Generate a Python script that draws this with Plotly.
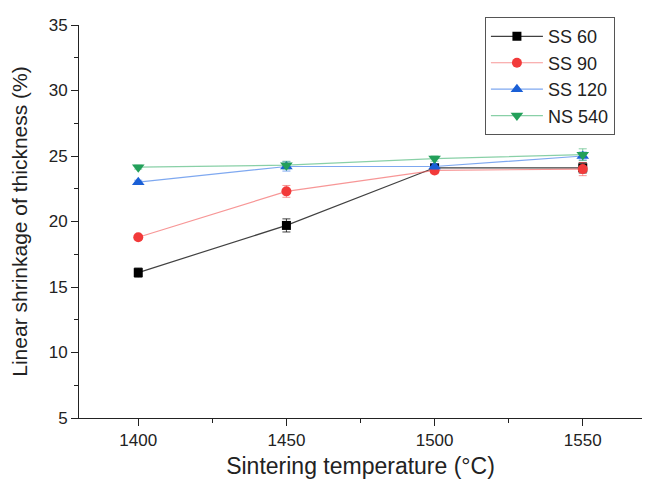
import plotly.graph_objects as go

temps = [1400, 1450, 1500, 1550]
ss60 = [16.1, 19.7, 24.1, 24.1]
ss60_err = [0.35, 0.5, 0.2, 0.4]
ss90 = [18.8, 22.3, 23.9, 24.0]
ss90_err = [0.15, 0.45, 0.25, 0.5]
ss120 = [23.0, 24.2, 24.2, 25.0]
ss120_err = [0.15, 0.35, 0.2, 0.3]
ns540 = [24.15, 24.3, 24.8, 25.1]
ns540_err = [0.15, 0.3, 0.2, 0.45]

series = [
    ("SS 60", ss60, ss60_err, "#000000", "rgba(0,0,0,0.75)", "square", 9),
    ("SS 90", ss90, ss90_err, "#f23a3a", "rgba(242,80,80,0.6)", "circle", 10),
    ("SS 120", ss120, ss120_err, "#1a5fd6", "rgba(40,110,230,0.6)", "triangle-up", 11),
    ("NS 540", ns540, ns540_err, "#23a05a", "rgba(40,170,95,0.55)", "triangle-down", 11),
]

fig = go.Figure()
for name, y, err, mc, lc, sym, sz in series:
    fig.add_trace(go.Scatter(
        x=temps, y=y, name=name, mode="lines+markers",
        line=dict(color=lc, width=1.2),
        marker=dict(color=mc, symbol=sym, size=sz),
        error_y=dict(type="data", array=err, visible=True, color=lc, thickness=1, width=4),
    ))

# page body has an 8px margin, so the figure is sized/offset to compensate
fig.update_layout(
    width=643, height=485,
    margin=dict(l=71, r=9, t=15, b=75),
    plot_bgcolor="white", paper_bgcolor="white",
    font=dict(family="Liberation Sans, Arial, sans-serif", color="#222"),
    showlegend=True,
    legend=dict(x=0.721, y=1.02, xanchor="left", yanchor="top",
                bordercolor="#555", borderwidth=1, bgcolor="white",
                font=dict(size=18), tracegroupgap=0, itemwidth=52),
    xaxis=dict(
        range=[1380, 1570], tickvals=[1400, 1450, 1500, 1550],
        ticks="outside", ticklen=7, tickwidth=1, tickcolor="#222",
        showline=True, linecolor="#222", linewidth=1, showgrid=False, zeroline=False,
        tickfont=dict(size=17), automargin=False,
        minor=dict(tickvals=[1425, 1475, 1525], ticks="outside", ticklen=4, tickcolor="#222"),
        title=dict(text="Sintering temperature (°C)", font=dict(size=23), standoff=8),
    ),
    yaxis=dict(
        range=[5, 35], tickvals=[5, 10, 15, 20, 25, 30, 35],
        ticks="outside", ticklen=7, tickwidth=1, tickcolor="#222",
        showline=True, linecolor="#222", linewidth=1, showgrid=False, zeroline=False,
        tickfont=dict(size=17), automargin=False,
        minor=dict(tickvals=[7.5, 12.5, 17.5, 22.5, 27.5, 32.5], ticks="outside", ticklen=4, tickcolor="#222"),
        title=dict(text="Linear shrinkage of thickness (%)", font=dict(size=21), standoff=22),
    ),
)

fig.write_html("out.html")
